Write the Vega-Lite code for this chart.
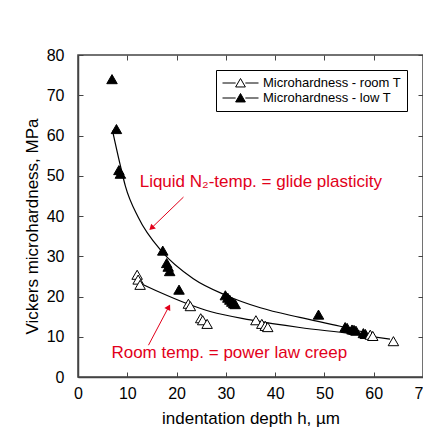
{
  "$schema": "https://vega.github.io/schema/vega-lite/v6.json",
  "width": 345,
  "height": 322,
  "autosize": {"type": "none"},
  "padding": {"left": 78, "top": 55, "right": 0, "bottom": 52},
  "background": "white",
  "config": {
    "font": "Liberation Sans",
    "view": {"stroke": "#444", "strokeWidth": 1.5},
    "axis": {
      "grid": false,
      "domainColor": "#444",
      "domainWidth": 1.5,
      "tickColor": "#444",
      "tickWidth": 1,
      "tickSize": -5,
      "labelFlush": false,
      "labelFont": "Liberation Sans",
      "labelFontSize": 16,
      "labelColor": "black",
      "titleFont": "Liberation Sans",
      "titleFontSize": 17,
      "titleFontWeight": "normal",
      "titleColor": "black"
    }
  },
  "datasets": {
    "points": [
      {"h": 6.9, "hv": 74.0, "series": "Microhardness - low T"},
      {"h": 7.8, "hv": 61.6, "series": "Microhardness - low T"},
      {"h": 8.3, "hv": 51.4, "series": "Microhardness - low T"},
      {"h": 8.6, "hv": 50.5, "series": "Microhardness - low T"},
      {"h": 17.2, "hv": 31.4, "series": "Microhardness - low T"},
      {"h": 18.0, "hv": 28.3, "series": "Microhardness - low T"},
      {"h": 18.3, "hv": 27.4, "series": "Microhardness - low T"},
      {"h": 18.6, "hv": 26.3, "series": "Microhardness - low T"},
      {"h": 20.5, "hv": 21.7, "series": "Microhardness - low T"},
      {"h": 29.9, "hv": 20.3, "series": "Microhardness - low T"},
      {"h": 30.4, "hv": 19.7, "series": "Microhardness - low T"},
      {"h": 30.8, "hv": 19.2, "series": "Microhardness - low T"},
      {"h": 31.2, "hv": 18.7, "series": "Microhardness - low T"},
      {"h": 31.6, "hv": 18.3, "series": "Microhardness - low T"},
      {"h": 31.9, "hv": 18.1, "series": "Microhardness - low T"},
      {"h": 48.8, "hv": 15.5, "series": "Microhardness - low T"},
      {"h": 54.2, "hv": 12.4, "series": "Microhardness - low T"},
      {"h": 54.6, "hv": 12.2, "series": "Microhardness - low T"},
      {"h": 55.6, "hv": 11.8, "series": "Microhardness - low T"},
      {"h": 56.0, "hv": 11.7, "series": "Microhardness - low T"},
      {"h": 56.4, "hv": 11.5, "series": "Microhardness - low T"},
      {"h": 57.9, "hv": 10.9, "series": "Microhardness - low T"},
      {"h": 58.3, "hv": 10.7, "series": "Microhardness - low T"},
      {"h": 12.0, "hv": 25.4, "series": "Microhardness - room T"},
      {"h": 12.2, "hv": 24.2, "series": "Microhardness - room T"},
      {"h": 12.6, "hv": 22.9, "series": "Microhardness - room T"},
      {"h": 22.4, "hv": 18.2, "series": "Microhardness - room T"},
      {"h": 22.8, "hv": 17.6, "series": "Microhardness - room T"},
      {"h": 24.9, "hv": 14.6, "series": "Microhardness - room T"},
      {"h": 25.3, "hv": 14.1, "series": "Microhardness - room T"},
      {"h": 26.2, "hv": 13.2, "series": "Microhardness - room T"},
      {"h": 36.1, "hv": 14.1, "series": "Microhardness - room T"},
      {"h": 37.3, "hv": 13.2, "series": "Microhardness - room T"},
      {"h": 38.0, "hv": 12.7, "series": "Microhardness - room T"},
      {"h": 38.5, "hv": 12.4, "series": "Microhardness - room T"},
      {"h": 59.3, "hv": 10.5, "series": "Microhardness - room T"},
      {"h": 59.8, "hv": 10.2, "series": "Microhardness - room T"},
      {"h": 64.0, "hv": 8.9, "series": "Microhardness - room T"}
    ],
    "curves": [
      {"h": 7.0, "hv": 61.2, "curve": "low"},
      {"h": 8.5, "hv": 53.0, "curve": "low"},
      {"h": 9.6, "hv": 47.5, "curve": "low"},
      {"h": 12.3, "hv": 39.5, "curve": "low"},
      {"h": 17.0, "hv": 31.2, "curve": "low"},
      {"h": 23.4, "hv": 24.4, "curve": "low"},
      {"h": 30.2, "hv": 20.2, "curve": "low"},
      {"h": 37.0, "hv": 17.2, "curve": "low"},
      {"h": 45.0, "hv": 14.8, "curve": "low"},
      {"h": 53.2, "hv": 12.6, "curve": "low"},
      {"h": 58.5, "hv": 11.0, "curve": "low"},
      {"h": 12.8, "hv": 23.2, "curve": "room"},
      {"h": 16.7, "hv": 21.0, "curve": "room"},
      {"h": 22.2, "hv": 18.2, "curve": "room"},
      {"h": 27.0, "hv": 16.2, "curve": "room"},
      {"h": 35.0, "hv": 14.2, "curve": "room"},
      {"h": 45.0, "hv": 12.3, "curve": "room"},
      {"h": 55.2, "hv": 10.8, "curve": "room"},
      {"h": 63.3, "hv": 9.4, "curve": "room"}
    ],
    "arrows": [
      {"h": 21.4, "hv": 44.7, "h2": 14.9, "hv2": 37.0},
      {"h": 14.3, "hv": 7.9, "h2": 18.4, "hv2": 17.4}
    ],
    "notes": [
      {"h": 37.1, "hv": 48.4, "label": "Liquid N₂-temp. = glide plasticity"},
      {"h": 30.7, "hv": 5.9, "label": "Room temp. = power law creep"}
    ]
  },
  "layer": [
    {
      "data": {"name": "curves"},
      "mark": {"type": "line", "color": "black", "strokeWidth": 1.2, "interpolate": "monotone"},
      "encoding": {
        "x": {"field": "h", "type": "quantitative", "scale": {"domain": [0, 70], "nice": false},
              "axis": {"orient": "top", "labels": false, "title": null, "domain": false, "values": [0,10,20,30,40,50,60,70]}},
        "y": {"field": "hv", "type": "quantitative", "scale": {"domain": [0, 80], "nice": false},
              "axis": {"orient": "right", "labels": false, "title": null, "domain": false, "values": [0,10,20,30,40,50,60,70,80]}},
        "detail": {"field": "curve"}
      }
    },
    {
      "data": {"name": "points"},
      "mark": {"type": "point", "shape": "triangle-up", "filled": true, "stroke": "black", "strokeWidth": 1, "size": 110, "opacity": 1},
      "encoding": {
        "x": {"field": "h", "type": "quantitative",
              "axis": {"orient": "bottom", "title": "indentation depth h, µm", "values": [0,10,20,30,40,50,60,70], "labelPadding": 13, "titleY": 41, "titleBaseline": "middle"}},
        "y": {"field": "hv", "type": "quantitative",
              "axis": {"orient": "left", "title": "Vickers microhardness, MPa", "values": [0,10,20,30,40,50,60,70,80], "labelPadding": 19, "titleX": -46, "titleY": 171, "titleBaseline": "middle", "titleAlign": "center", "titleAngle": -90}},
        "fill": {"field": "series", "type": "nominal",
                 "scale": {"domain": ["Microhardness - room T", "Microhardness - low T"], "range": ["white", "black"]},
                 "legend": {"title": null, "orient": "none", "legendX": 138, "legendY": 15, "strokeColor": "black", "fillColor": "white", "padding": 6,
                            "symbolType": "M-1,0H-0.27M0.27,0H1M0,-0.25L0.27,0.22H-0.27Z", "symbolSize": 1296,
                            "symbolStrokeColor": "black", "symbolStrokeWidth": 1, "clipHeight": 14, "rowPadding": 1,
                            "labelOffset": 4, "labelFontSize": 13, "labelFont": "Liberation Sans", "labelColor": "black", "labelLimit": 300}}
      }
    },
    {
      "data": {"name": "arrows"},
      "mark": {"type": "rule", "color": "#e2001a", "strokeWidth": 1},
      "encoding": {
        "x": {"field": "h", "type": "quantitative", "axis": null},
        "y": {"field": "hv", "type": "quantitative", "axis": null},
        "x2": {"field": "h2"},
        "y2": {"field": "hv2"}
      }
    },
    {
      "data": {"values": [{"h": 14.9, "hv": 37.0}]},
      "mark": {"type": "point", "shape": "triangle-up", "filled": true, "color": "#e2001a", "size": 45, "angle": 226, "opacity": 1},
      "encoding": {
        "x": {"field": "h", "type": "quantitative", "axis": null},
        "y": {"field": "hv", "type": "quantitative", "axis": null}
      }
    },
    {
      "data": {"values": [{"h": 18.4, "hv": 17.4}]},
      "mark": {"type": "point", "shape": "triangle-up", "filled": true, "color": "#e2001a", "size": 45, "angle": 28, "opacity": 1},
      "encoding": {
        "x": {"field": "h", "type": "quantitative", "axis": null},
        "y": {"field": "hv", "type": "quantitative", "axis": null}
      }
    },
    {
      "data": {"name": "notes"},
      "mark": {"type": "text", "color": "#e2001a", "fontSize": 17, "font": "Liberation Sans", "align": "center", "baseline": "middle"},
      "encoding": {
        "x": {"field": "h", "type": "quantitative", "axis": null},
        "y": {"field": "hv", "type": "quantitative", "axis": null},
        "text": {"field": "label"}
      }
    }
  ],
  "resolve": {"axis": {"x": "independent", "y": "independent"}}
}
